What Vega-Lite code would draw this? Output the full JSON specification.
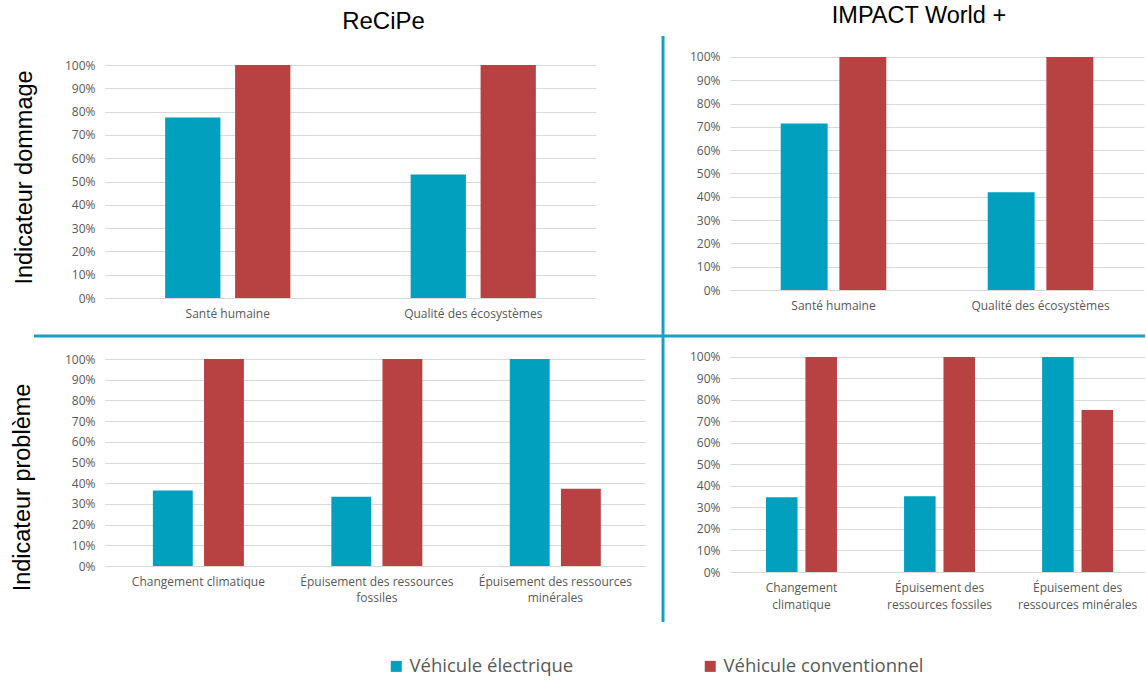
{
  "$schema": "https://vega.github.io/schema/vega-lite/v6.json",
  "background": "white",
  "padding": {"left": 10, "top": 3, "right": 0, "bottom": 0},
  "columns": 4,
  "spacing": 0,
  "bounds": "flush",
  "align": "each",
  "resolve": {"scale": {"xOffset": "independent"}},
  "config": {
    "view": {"stroke": null},
    "font": "Open Sans",
    "axis": {"labelFont": "Open Sans", "labelFontSize": 12, "labelColor": "#595959", "domain": false, "ticks": false, "gridColor": "#D9D9D9", "gridWidth": 1, "labelPadding": 10},
    "title": {"font": "Liberation Sans", "fontSize": 23.5, "fontWeight": "normal", "color": "#000000", "anchor": "middle"}
  },
  "concat": [
    {"width": 1, "height": 1, "data": {"values": []}, "mark": "rule", "encoding": {}},
    {
      "title": {"text": "ReCiPe", "offset": 2, "dx": 33, "fontSize": 24},
      "width": 491, "height": 262,
      "data": {"values": [
        {"categorie": "Santé humaine", "vehicule": "Véhicule électrique", "valeur": 0.775},
        {"categorie": "Santé humaine", "vehicule": "Véhicule conventionnel", "valeur": 1.0},
        {"categorie": "Qualité des écosystèmes", "vehicule": "Véhicule électrique", "valeur": 0.53},
        {"categorie": "Qualité des écosystèmes", "vehicule": "Véhicule conventionnel", "valeur": 1.0}
      ]},
      "mark": {"type": "bar"},
      "encoding": {
        "x": {"field": "categorie", "type": "nominal", "sort": ["Santé humaine", "Qualité des écosystèmes"], "scale": {"paddingInner": 0.49, "paddingOuter": 0.245}, "axis": {"title": null, "labelAngle": 0}},
        "xOffset": {"field": "vehicule", "type": "nominal", "sort": ["Véhicule électrique", "Véhicule conventionnel"], "scale": {"paddingInner": 0.21}},
        "y": {"field": "valeur", "type": "quantitative", "scale": {"domain": [0, 1.1245], "nice": false}, "axis": {"values": [0, 0.1, 0.2, 0.3, 0.4, 0.5, 0.6, 0.7, 0.8, 0.9, 1.0], "format": ".0%", "title": "Indicateur dommage", "titleFont": "Liberation Sans", "titleFontSize": 23.5, "titleFontWeight": "normal", "titleColor": "#000000", "titleY": 141, "titlePadding": 28}},
        "color": {"field": "vehicule", "type": "nominal", "scale": {"domain": ["Véhicule électrique", "Véhicule conventionnel"], "range": ["#00A0BE", "#B84242"]}, "legend": {"orient": "none", "legendX": 353, "legendY": 621, "direction": "horizontal", "title": null, "symbolType": "square", "symbolSize": 121, "symbolStrokeWidth": 0, "labelFont": "Open Sans", "labelFontSize": 18.5, "labelColor": "#595959", "labelOffset": 4, "labelLimit": 400, "columnPadding": 127}}
      }
    },
    {"width": 67, "height": 300, "data": {"values": [{}]}, "mark": {"type": "rule", "color": "#1AA0C4", "strokeWidth": 3}, "encoding": {"x": {"datum": 0, "type": "quantitative", "scale": {"domain": [0, 1]}, "axis": null}}},
    {
      "title": {"text": "IMPACT World +", "offset": 9, "dx": -18},
      "width": 414, "height": 254,
      "data": {"values": [
        {"categorie": "Santé humaine", "vehicule": "Véhicule électrique", "valeur": 0.715},
        {"categorie": "Santé humaine", "vehicule": "Véhicule conventionnel", "valeur": 1.0},
        {"categorie": "Qualité des écosystèmes", "vehicule": "Véhicule électrique", "valeur": 0.42},
        {"categorie": "Qualité des écosystèmes", "vehicule": "Véhicule conventionnel", "valeur": 1.0}
      ]},
      "mark": {"type": "bar"},
      "encoding": {
        "x": {"field": "categorie", "type": "nominal", "sort": ["Santé humaine", "Qualité des écosystèmes"], "scale": {"paddingInner": 0.49, "paddingOuter": 0.245}, "axis": {"title": null, "labelAngle": 0}},
        "xOffset": {"field": "vehicule", "type": "nominal", "sort": ["Véhicule électrique", "Véhicule conventionnel"], "scale": {"paddingInner": 0.2}},
        "y": {"field": "valeur", "type": "quantitative", "scale": {"domain": [0, 1.0901], "nice": false}, "axis": {"values": [0, 0.1, 0.2, 0.3, 0.4, 0.5, 0.6, 0.7, 0.8, 0.9, 1.0], "format": ".0%", "title": null}},
        "color": {"field": "vehicule", "type": "nominal"}
      }
    },
    {"width": 71, "height": 1, "data": {"values": [{}]}, "mark": {"type": "rule", "color": "#1AA0C4", "strokeWidth": 3}, "encoding": {"y": {"datum": 1, "type": "quantitative", "scale": {"domain": [0, 1]}, "axis": null}}},
    {"width": 558, "height": 1, "data": {"values": [{}]}, "mark": {"type": "rule", "color": "#1AA0C4", "strokeWidth": 3}, "encoding": {"y": {"datum": 1, "type": "quantitative", "scale": {"domain": [0, 1]}, "axis": null}}},
    {"width": 67, "height": 1, "data": {"values": [{}]}, "mark": {"type": "rule", "color": "#1AA0C4", "strokeWidth": 3}, "encoding": {"y": {"datum": 1, "type": "quantitative", "scale": {"domain": [0, 1]}, "axis": null}}},
    {"width": 415, "height": 1, "data": {"values": [{}]}, "mark": {"type": "rule", "color": "#1AA0C4", "strokeWidth": 3}, "encoding": {"y": {"datum": 1, "type": "quantitative", "scale": {"domain": [0, 1]}, "axis": null}}},
    {"width": 1, "height": 1, "data": {"values": []}, "mark": "rule", "encoding": {}},
    {
      "width": 540, "height": 229,
      "data": {"values": [
        {"categorie": "Changement climatique", "vehicule": "Véhicule électrique", "valeur": 0.365},
        {"categorie": "Changement climatique", "vehicule": "Véhicule conventionnel", "valeur": 1.0},
        {"categorie": "Épuisement des ressources fossiles", "vehicule": "Véhicule électrique", "valeur": 0.335},
        {"categorie": "Épuisement des ressources fossiles", "vehicule": "Véhicule conventionnel", "valeur": 1.0},
        {"categorie": "Épuisement des ressources minérales", "vehicule": "Véhicule électrique", "valeur": 1.0},
        {"categorie": "Épuisement des ressources minérales", "vehicule": "Véhicule conventionnel", "valeur": 0.373}
      ]},
      "mark": {"type": "bar"},
      "encoding": {
        "x": {"field": "categorie", "type": "nominal", "sort": ["Changement climatique", "Épuisement des ressources fossiles", "Épuisement des ressources minérales"], "scale": {"paddingInner": 0.49, "paddingOuter": 0.258, "align": 0.52}, "axis": {"title": null, "labelAngle": 0, "labelLineHeight": 16, "labelExpr": "datum.label == 'Changement climatique' ? datum.label : ['Épuisement des ressources', replace(datum.label, 'Épuisement des ressources ', '')]"}},
        "xOffset": {"field": "vehicule", "type": "nominal", "sort": ["Véhicule électrique", "Véhicule conventionnel"], "scale": {"paddingInner": 0.22}},
        "y": {"field": "valeur", "type": "quantitative", "scale": {"domain": [0, 1.1063], "nice": false}, "axis": {"values": [0, 0.1, 0.2, 0.3, 0.4, 0.5, 0.6, 0.7, 0.8, 0.9, 1.0], "format": ".0%", "title": "Indicateur problème", "titleFont": "Liberation Sans", "titleFontSize": 23.5, "titleFontWeight": "normal", "titleColor": "#000000", "titleY": 150, "titlePadding": 30}},
        "color": {"field": "vehicule", "type": "nominal"}
      }
    },
    {"width": 67, "height": 285, "data": {"values": [{}]}, "mark": {"type": "rule", "color": "#1AA0C4", "strokeWidth": 3}, "encoding": {"x": {"datum": 0, "type": "quantitative", "scale": {"domain": [0, 1]}, "axis": null}}},
    {
      "width": 415, "height": 235,
      "data": {"values": [
        {"categorie": "Changement climatique", "vehicule": "Véhicule électrique", "valeur": 0.348},
        {"categorie": "Changement climatique", "vehicule": "Véhicule conventionnel", "valeur": 1.0},
        {"categorie": "Épuisement des ressources fossiles", "vehicule": "Véhicule électrique", "valeur": 0.352},
        {"categorie": "Épuisement des ressources fossiles", "vehicule": "Véhicule conventionnel", "valeur": 1.0},
        {"categorie": "Épuisement des ressources minérales", "vehicule": "Véhicule électrique", "valeur": 1.0},
        {"categorie": "Épuisement des ressources minérales", "vehicule": "Véhicule conventionnel", "valeur": 0.753}
      ]},
      "mark": {"type": "bar"},
      "encoding": {
        "x": {"field": "categorie", "type": "nominal", "sort": ["Changement climatique", "Épuisement des ressources fossiles", "Épuisement des ressources minérales"], "scale": {"paddingInner": 0.486, "paddingOuter": 0.246, "align": 0.53}, "axis": {"title": null, "labelAngle": 0, "labelLineHeight": 17, "labelExpr": "datum.label == 'Changement climatique' ? ['Changement', 'climatique'] : ['Épuisement des', replace(datum.label, 'Épuisement des ', '')]"}},
        "xOffset": {"field": "vehicule", "type": "nominal", "sort": ["Véhicule électrique", "Véhicule conventionnel"], "scale": {"paddingInner": 0.2}},
        "y": {"field": "valeur", "type": "quantitative", "scale": {"domain": [0, 1.093], "nice": false}, "axis": {"values": [0, 0.1, 0.2, 0.3, 0.4, 0.5, 0.6, 0.7, 0.8, 0.9, 1.0], "format": ".0%", "title": null}},
        "color": {"field": "vehicule", "type": "nominal"}
      }
    }
  ]
}
